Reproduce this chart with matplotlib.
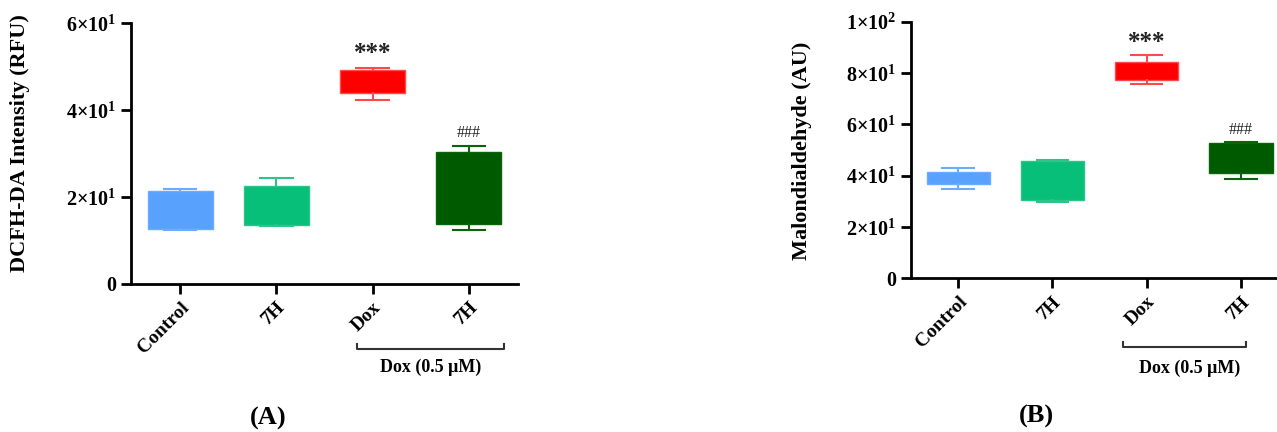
import matplotlib
matplotlib.use("Agg")
import matplotlib.pyplot as plt
from matplotlib.transforms import blended_transform_factory

plt.rcParams['font.family'] = ['Liberation Serif', 'DejaVu Serif']
plt.rcParams['font.weight'] = 'bold'
plt.rcParams['mathtext.fontset'] = 'custom'
plt.rcParams['mathtext.rm'] = 'Liberation Serif:bold'
plt.rcParams['mathtext.bf'] = 'Liberation Serif:bold'

groups = ['Control', '7H', 'Dox', '7H']
colors = ['#58a2fd', '#07bf78', '#ff0000', '#005a00']
whisk_colors = ['#6aacff', '#2cc488', '#ff4a4a', '#0a650a']

# panel A: DCFH-DA (RFU)
a_lo = [12.4, 13.3, 42.4, 12.4]
a_q1 = [12.7, 13.6, 43.9, 13.9]
a_med = [17.0, 18.0, 46.5, 22.0]
a_q3 = [21.5, 22.5, 49.3, 30.3]
a_hi = [21.9, 24.3, 49.7, 31.8]
a_ticks = [0, 20, 40, 60]
a_ticklabels = ['0', '2×10$^{1}$', '4×10$^{1}$', '6×10$^{1}$']

# panel B: malondialdehyde (AU)
b_lo = [34.8, 29.8, 75.8, 38.8]
b_q1 = [36.6, 30.6, 77.1, 41.1]
b_med = [39.0, 38.0, 80.5, 47.0]
b_q3 = [41.3, 45.8, 84.1, 52.8]
b_hi = [43.0, 46.0, 86.9, 53.0]
b_ticks = [0, 20, 40, 60, 80, 100]
b_ticklabels = ['0', '2×10$^{1}$', '4×10$^{1}$', '6×10$^{1}$', '8×10$^{1}$', '1×10$^{2}$']

fig = plt.figure(figsize=(12.77, 4.32), dpi=100)
axA = fig.add_axes([0.1026, 0.3426, 0.3030, 0.6034])
axB = fig.add_axes([0.7134, 0.3558, 0.2953, 0.5940])


def draw_panel(ax, lo, q1, med, q3, hi, ticks, ticklabels, ylabel, xlim, width,
               lab_xy, stars_y, hash_y, br_y, br_x, txt_xy):
    for i in range(len(groups)):
        st = [dict(whislo=lo[i], q1=q1[i], med=med[i], q3=q3[i], whishi=hi[i], fliers=[])]
        ax.bxp(st, positions=[i], widths=width, patch_artist=True, showfliers=False,
               boxprops=dict(facecolor=colors[i], edgecolor=whisk_colors[i], linewidth=1),
               medianprops=dict(color=colors[i], linewidth=0),
               whiskerprops=dict(color=whisk_colors[i], linewidth=1.5),
               capprops=dict(color=whisk_colors[i], linewidth=1.5),
               capwidths=width * 0.5)
    ax.set_xlim(*xlim)
    ax.set_ylim(ticks[0], ticks[-1])
    ax.set_yticks(ticks)
    ax.set_yticklabels(ticklabels, fontsize=14.5, fontweight='bold')
    ax.set_xticks(range(len(groups)))
    ax.set_xticklabels(groups, rotation=45, ha='right', rotation_mode='anchor',
                       fontsize=14, fontweight='bold')
    ax.spines['top'].set_visible(False)
    ax.spines['right'].set_visible(False)
    for s in ['left', 'bottom']:
        ax.spines[s].set_linewidth(2)
    ax.tick_params(width=2, length=7)
    ax.set_ylabel(ylabel, fontsize=16, fontweight='bold')
    ax.yaxis.set_label_coords(*lab_xy)

    ax.text(2, stars_y, '***', ha='center', va='center', fontsize=18,
            fontweight='bold', color='#222222')
    ax.text(3, hash_y, '###', ha='center', va='center', fontsize=11.5,
            fontweight='normal', color='#222222')

    tr = blended_transform_factory(ax.transData, ax.transAxes)
    ax.plot([br_x[0], br_x[0], br_x[1], br_x[1]],
            [br_y + 0.02, br_y, br_y, br_y + 0.02],
            color='#333333', lw=1.5, transform=tr, clip_on=False)
    ax.text(txt_xy[0], txt_xy[1], 'Dox (0.5 μM)', transform=tr, ha='center',
            va='center', fontsize=13, fontweight='bold')


draw_panel(axA, a_lo, a_q1, a_med, a_q3, a_hi, a_ticks, a_ticklabels,
           'DCFH-DA Intensity (RFU)', (-0.51, 3.51), 0.675,
           (-0.261, 0.54), 53.1, 34.7, -0.249, (1.84, 3.37), (2.60, -0.318))
draw_panel(axB, b_lo, b_q1, b_med, b_q3, b_hi, b_ticks, b_ticklabels,
           'Malondialdehyde (AU)', (-0.5, 3.5), 0.67,
           (-0.263, 0.496), 92.0, 57.8, -0.268, (1.75, 3.05), (2.46, -0.349))

fig.text(0.210, 0.032, '(A)', ha='center', va='center', fontsize=19, fontweight='bold')
fig.text(0.812, 0.035, '(B)', ha='center', va='center', fontsize=19, fontweight='bold')

fig.savefig('out.png', dpi=100)
